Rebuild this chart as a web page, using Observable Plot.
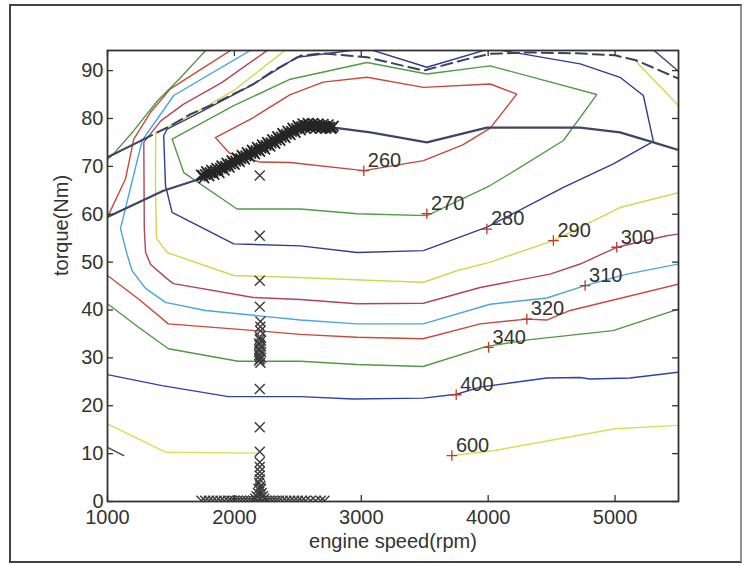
<!DOCTYPE html>
<html><head><meta charset="utf-8">
<script src="https://cdn.jsdelivr.net/npm/d3@7"></script>
<script src="https://cdn.jsdelivr.net/npm/@observablehq/plot@0.6"></script>
<style>
html,body{margin:0;padding:0;background:#fff;}
#wrap{position:relative;width:747px;height:565px;overflow:hidden;background:#fff;}
#border{position:absolute;left:9px;top:4px;width:729px;height:555px;border:2px solid #3d4156;border-right-color:#8d90a0;pointer-events:none;}
</style></head><body><div id="wrap"><div id="chart"></div><div id="border"></div></div>
<script>
// ---- axis ticks ----
const xTicks = [1000, 2000, 3000, 4000, 5000];
const yTicks = [0, 10, 20, 30, 40, 50, 60, 70, 80, 90];

// ---- BSFC contour lines (engine speed rpm, torque Nm) ----
const c260 = [[1850,76.0],[1960,72.8],[2200,70.9],[2440,70.8],[3020,69.1],[3490,71.2],[3800,74.5],[4016,78.0],[4226,85.1],[4016,87.2],[3490,86.5],[3045,88.6],[2700,87.6],[2440,85.0],[2150,80.2],[1850,76.0]];
const c270 = [[1509,75.7],[1601,68.7],[2021,61.1],[2520,61.1],[2966,60.1],[3517,59.7],[4016,66.0],[4252,69.8],[4593,75.4],[4856,85.0],[4016,91.0],[3517,89.3],[3045,91.7],[2441,88.2],[1995,82.7],[1509,75.7]];
const c280 = [[1443,76.4],[1457,66.0],[1509,60.4],[1995,53.8],[2520,53.4],[2966,52.0],[3490,52.4],[3990,57.3],[4593,65.6],[4987,70.5],[5302,75.2],[5223,84.8],[5039,88.6],[4725,91.4],[4200,93.8],[4016,94.6],[3517,90.7],[3045,94.6],[2494,92.8],[2126,86.8],[1680,80.6],[1470,77.8],[1443,76.4]];
const c290 = [[2417,94.6],[1992,85.8],[1654,80.6],[1380,77.0],[1378,66.0],[1386,55.0],[1470,52.0],[1994,47.2],[2500,46.8],[3150,46.1],[3490,45.8],[3753,48.2],[4016,50.0],[4514,54.5],[5039,61.4],[5500,64.5]];
const c290b = [[5150,92.5],[5197,91.0],[5400,85.5],[5520,82.0]];
const c300 = [[2280,94.6],[1900,87.5],[1600,83.0],[1420,79.5],[1286,75.0],[1290,57.0],[1300,52.0],[1340,49.5],[1470,46.5],[1520,45.5],[2150,42.6],[2520,42.2],[2966,41.3],[3490,41.4],[3937,44.7],[4488,47.5],[4725,49.6],[5013,53.1],[5407,55.5],[5510,55.9]];
const c310 = [[2150,94.6],[1522,84.8],[1273,75.4],[1102,57.0],[1150,52.0],[1194,48.2],[1300,44.5],[1457,41.6],[1772,39.9],[2520,37.9],[2966,37.1],[3488,37.1],[4016,41.2],[4462,42.5],[4764,45.1],[5092,47.5],[5500,49.6]];
const c320 = [[1000,47.2],[1245,42.3],[1480,37.1],[2165,35.7],[2520,34.9],[2966,34.3],[3488,34.0],[3937,37.1],[4305,38.1],[4462,37.9],[4646,39.9],[5500,45.4]];
const c320b = [[1000,59.4],[1142,67.4],[1207,75.7],[1339,81.3],[1496,86.2],[1992,94.6]];
const c340 = [[1000,41.3],[1245,36.4],[1480,31.9],[2030,29.3],[2520,29.3],[2966,28.6],[3488,28.2],[3990,32.4],[4330,33.8],[4984,35.7],[5500,40.2]];
const c340b = [[1000,71.5],[1047,72.6],[1205,77.4],[1394,83.7],[1575,88.5],[1787,94.6]];
const c400 = [[1000,26.5],[1430,24.2],[1953,21.9],[2520,21.9],[2937,21.4],[3488,21.6],[3750,22.4],[3937,23.9],[4462,25.8],[4725,25.9],[4800,25.6],[5118,25.8],[5500,27.0]];
const c600 = [[1000,16.2],[1457,10.3],[2189,10.1]];
const c600b = [[3714,9.6],[4040,10.6],[5000,15.2],[5500,15.9]];
const c1000 = [[1000,11.3],[1128,9.6]];
const cTopRight = [[5290,94.6],[5512,89.6]];

// ---- full-load (max torque) curve and dashed boundary ----
const maxTorque = [[1000,59.4],[1440,64.9],[1732,67.4],[2000,71.0],[2300,75.0],[2520,78.0],[2782,78.1],[3071,77.1],[3517,75.0],[3990,78.1],[4725,78.1],[5039,77.1],[5302,75.0],[5500,73.4]];
const boundSolid = [[1000,71.9],[1273,75.5]];
const boundDashed = [[1273,75.5],[1470,78.1],[1654,80.9],[1811,82.7],[2152,87.2],[2309,90.0],[2520,93.1],[2700,93.6],[3045,92.8],[3490,90.0],[3833,92.4],[4016,93.5],[4300,93.8],[4700,93.6],[5000,93.2],[5170,92.1],[5328,90.3],[5512,88.2]];

// ---- operating points (x markers) ----
const bandRpm = [1740,1760,1780,1800,1820,1840,1860,1880,1900,1920,1940,1960,1980,2000,2020,2040,2060,2080,2100,2120,2140,2160,2180,2200,2220,2240,2260,2280,2300,2320,2340,2360,2380,2400,2420,2440,2460,2480,2500,2520,2540,2560,2580,2600,2620,2640,2660,2680,2700,2720,2740,2760,2780];
const bandTorque = [68.2,67.6,68.9,68.0,69.2,68.3,69.6,68.7,70.1,69.2,70.7,69.8,71.2,70.4,71.8,71.0,72.3,71.5,72.9,72.0,73.4,72.6,74.0,73.1,74.5,73.6,75.0,74.2,75.6,74.8,76.2,75.4,76.9,76.0,77.4,76.6,78.0,77.1,78.5,77.6,78.9,77.9,79.0,78.0,79.0,78.0,78.9,77.9,78.8,77.9,78.7,77.9,78.4];
const bandRpm2 = [1750,1770,1790,1810,1830,1850,1870,1890,1910,1930,1950,1970,1990,2010,2030,2050,2070,2090,2110,2130,2150,2170,2190,2210,2230,2250,2270,2290,2310,2330,2350,2370,2390,2410,2430,2450,2470,2490,2510,2530,2550,2570,2590,2610,2630,2650,2670,2690,2710,2730,2750,2770];
const bandTorque2 = [68.1,68.3,68.5,68.7,68.9,69.1,69.3,69.6,69.8,70.0,70.3,70.5,70.8,71.1,71.4,71.6,71.9,72.2,72.4,72.7,73.0,73.3,73.5,73.8,74.1,74.4,74.6,74.9,75.2,75.5,75.8,76.1,76.4,76.7,77.0,77.3,77.6,77.9,78.1,78.3,78.4,78.5,78.5,78.5,78.5,78.4,78.4,78.3,78.3,78.2,78.2,78.1];
const columnPoints = [[2200,68.1],[2200,55.5],[2200,46.1],[2200,40.7],[2205,37.6],[2205,36.5],[2205,35.6],[2200,34.4],[2200,33.9],[2210,33.6],[2195,33.0],[2200,32.7],[2210,32.4],[2195,31.8],[2200,31.5],[2210,31.2],[2195,30.6],[2200,30.3],[2210,30.0],[2200,29.7],[2195,29.4],[2205,29.0],[2200,23.5],[2200,15.5],[2200,10.4],[2200,8.2],[2200,7.2],[2200,6.2],[2200,5.4],[2200,4.6],[2195,3.9],[2205,3.2],[2190,2.6],[2210,2.6],[2185,1.8],[2215,1.8],[2175,1.1],[2225,1.1],[2165,0.6],[2235,0.6]];
const bottomRowRpm = [1740,1770,1800,1830,1860,1890,1920,1950,1975,2000,2025,2050,2075,2100,2125,2150,2175,2225,2250,2275,2300,2325,2350,2380,2410,2440,2470,2500,2530,2560,2600,2640,2680,2710];
const bottomRowTorque = 0.15;

// ---- contour labels ----
const labelRpm = [3020, 3517, 3990, 4514, 5013, 4764, 4305, 4003, 3748, 3714];
const labelTorque = [69.1, 60.1, 56.9, 54.5, 53.1, 45.1, 38.1, 32.2, 22.3, 9.6];
const labelText = ["260", "270", "280", "290", "300", "310", "320", "340", "400", "600"];

// ---- build ----
const contourSeries = [
  [c260, "#c8473c"], [c270, "#4f9d45"], [c280, "#2f3d8f"],
  [c290, "#cfd94a"], [c290b, "#cfd94a"], [c300, "#b4445c"],
  [c310, "#4aa6dc"], [c320, "#c9493a"], [c320b, "#c9493a"],
  [c340, "#4f9a40"], [c340b, "#4f9a40"], [c400, "#2e43a6"],
  [c600, "#d5e052"], [c600b, "#d5e052"], [c1000, "#3f4566"], [cTopRight, "#3f4566"]
];
const bandPoints = bandRpm.map((r, i) => [r, bandTorque[i]])
  .concat(bandRpm2.map((r, i) => [r, bandTorque2[i]]));
const otherPoints = columnPoints.concat(bottomRowRpm.map(r => [r, bottomRowTorque]));
const labelIdx = labelText.map((_, i) => i);

const W = 747, H = 565, mL = 107, mR = 69, mT = 50, mB = 64;
const innerW = W - mL - mR, innerH = H - mT - mB;
const ink = "#333";
const fs = 20;
const font = "'Liberation Sans', Arial, Helvetica, sans-serif";

const plot = Plot.plot({
  width: W, height: H,
  marginLeft: mL, marginRight: mR, marginTop: mT, marginBottom: mB,
  x: {domain: [1000, 5500]},
  y: {domain: [0, 94.2]},
  style: {fontFamily: font, fontSize: fs + "px", color: ink, background: "transparent", overflow: "visible"},
  marks: [
    ...contourSeries.map(([pts, col]) => Plot.line(pts, {x: d => d[0], y: d => d[1], stroke: col, strokeWidth: 1.4, clip: true})),
    Plot.line(boundSolid, {x: d => d[0], y: d => d[1], stroke: "#3f4566", strokeWidth: 2, clip: true}),
    Plot.line(boundDashed, {x: d => d[0], y: d => d[1], stroke: "#3c4160", strokeWidth: 2, strokeDasharray: "11,6", clip: true}),
    Plot.line(maxTorque, {x: d => d[0], y: d => d[1], stroke: "#3f4566", strokeWidth: 2.2, clip: true}),
    Plot.dot(bandPoints, {x: d => d[0], y: d => d[1], symbol: "times", r: 4.8, stroke: "#262626", strokeWidth: 1.7, clip: true}),
    Plot.dot(otherPoints, {x: d => d[0], y: d => d[1], symbol: "times", r: 4.6, stroke: "#3a3a3a", strokeWidth: 1.4, clip: true}),
    Plot.dot(labelIdx, {x: i => labelRpm[i], y: i => labelTorque[i], symbol: "plus", r: 3.5, stroke: "#c0392b", strokeWidth: 1.3}),
    Plot.text(labelIdx, {x: i => labelRpm[i], y: i => labelTorque[i], text: i => labelText[i], dx: 4, dy: -10, textAnchor: "start", fill: ink, fontSize: fs}),
    Plot.frame({stroke: ink, strokeWidth: 1.8}),
    Plot.tickX(xTicks, {x: d => d, insetTop: innerH - 6, stroke: ink, strokeWidth: 1.3}),
    Plot.tickX(xTicks, {x: d => d, insetBottom: innerH - 6, stroke: ink, strokeWidth: 1.3}),
    Plot.tickY(yTicks, {y: d => d, insetRight: innerW - 6, stroke: ink, strokeWidth: 1.3}),
    Plot.tickY(yTicks, {y: d => d, insetLeft: innerW - 6, stroke: ink, strokeWidth: 1.3}),
    Plot.axisX(xTicks, {tickSize: 0, tickPadding: 8, label: null, fontSize: fs, fill: ink, tickFormat: d => String(d)}),
    Plot.axisY(yTicks, {tickSize: 0, tickPadding: 4, label: null, fontSize: fs, fill: ink, tickFormat: d => String(d)}),
    Plot.text(["engine speed(rpm)"], {frameAnchor: "bottom", dy: 46, text: d => d, fontSize: fs, fill: ink}),
    Plot.text(["torque(Nm)"], {frameAnchor: "left", dx: -46, rotate: -90, text: d => d, fontSize: fs, fill: ink})
  ]
});
document.getElementById("chart").appendChild(plot);
</script></body></html>
